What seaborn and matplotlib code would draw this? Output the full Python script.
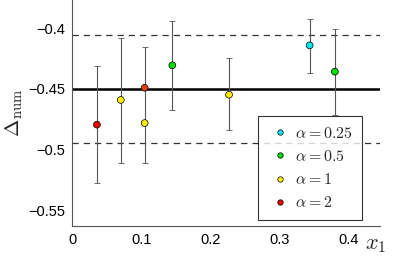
import numpy as np
import pandas as pd
import seaborn as sns
import matplotlib
matplotlib.use("Agg")
from matplotlib import pyplot as plt

# 数据
x1 = [0.036, 0.0705, 0.105, 0.105, 0.145, 0.227, 0.3435, 0.380]
delta = [-0.4793, -0.459, -0.478, -0.449, -0.4306, -0.4547, -0.4142, -0.4358]
err_lo = [-0.5273, -0.5104, -0.511, -0.449, -0.4672, -0.4836, -0.4366, -0.4713]
err_hi = [-0.4311, -0.4082, -0.4158, -0.449, -0.394, -0.4248, -0.3929, -0.4006]
alpha = ['2', '1', '1', '2', '0.5', '1', '0.25', '0.5']
alpha_order = ['0.25', '0.5', '1', '2']
colors = ['#00e8f0', '#00dd00', '#ffee00', '#ee0000']

ref_mean = -0.45
ref_band = [-0.4055, -0.494]

sns.set_style("white")
plt.rcParams['font.family'] = ['Liberation Sans', 'DejaVu Sans']
plt.rcParams['mathtext.fontset'] = 'cm'

df = pd.DataFrame({'x1': x1, 'delta': delta, 'alpha': alpha})
df['label'] = df['alpha'].map(lambda a: r'$\alpha = %s$' % a)

fig = plt.figure(figsize=(3.99, 2.56), dpi=100)
ax = fig.add_axes([0.1805, 0.117, 0.7715, 0.883])

# 误差线
yerr = [np.array(delta) - np.array(err_lo), np.array(err_hi) - np.array(delta)]
ax.errorbar(x1, delta, yerr=yerr, fmt='none', ecolor='#555555', elinewidth=0.8,
            capsize=2, capthick=0.6, zorder=2)

ax.axhline(ref_mean, color='black', lw=1.8, zorder=1)
for b in ref_band:
    ax.axhline(b, color='#333333', lw=0.9, ls=(0, (5, 4)), zorder=1)

pal = dict(zip([r'$\alpha = %s$' % a for a in alpha_order], colors))
sns.scatterplot(data=df, x='x1', y='delta', hue='label',
                hue_order=[r'$\alpha = %s$' % a for a in alpha_order],
                palette=pal, s=24, edgecolor='black', linewidth=0.5, zorder=3, ax=ax)
# 0.105 处的红点颜色偏橙
ax.collections[-1].set_facecolors([pal[l] if not (xx == 0.105 and l.endswith('2$')) else '#e04010'
                                   for xx, l in zip(df['x1'], df['label'])])

ax.set_xlim(0, 0.445)
ax.set_ylim(-0.5625, -0.377)
ax.set_xticks([0, 0.1, 0.2, 0.3, 0.4])
ax.set_xticklabels(['0', '0.1', '0.2', '0.3', '0.4'])
ax.set_yticks([-0.4, -0.45, -0.5, -0.55])
ax.set_yticklabels(['\u22120.4', '\u22120.45', '\u22120.5', '\u22120.55'])
ax.tick_params(direction='in', length=3, width=0.6, labelsize=10.5, colors='#333333',
               labelcolor='black', pad=5)
for s in ['top', 'right']:
    ax.spines[s].set_visible(False)
for s in ['left', 'bottom']:
    ax.spines[s].set_color('#555555')
    ax.spines[s].set_linewidth(0.8)

ax.set_xlabel('')
ax.set_ylabel(r'$\Delta_{\mathrm{num}}$', fontsize=15, labelpad=2)
fig.text(0.915, 0.025, r'$x_1$', fontsize=16)

leg = ax.legend(loc='lower right', bbox_to_anchor=(0.9416, 0.0265), fontsize=11.5,
                frameon=True, fancybox=False, edgecolor='black', handletextpad=0.1,
                handlelength=1.6, borderpad=0.6, labelspacing=0.52, markerscale=0.8,
                borderaxespad=0)
leg.get_frame().set_linewidth(0.8)

fig.savefig('out.png', dpi=100)
